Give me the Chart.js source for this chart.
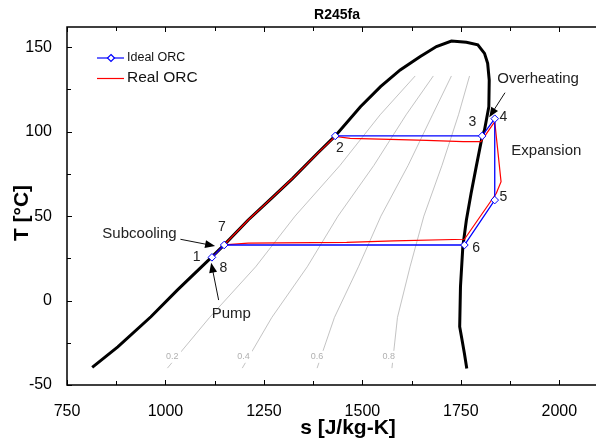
<!DOCTYPE html>
<html>
<head>
<meta charset="utf-8">
<script src="https://cdn.jsdelivr.net/npm/chart.js@4.4.1/dist/chart.umd.min.js"></script>
<style>
  body { margin: 0; background: #fff; overflow: hidden; }
  #wrap { width: 599px; height: 442px; position: relative; }
</style>
</head>
<body>
<div id="wrap"><canvas id="ts"></canvas></div>
<script>
// Saturation dome (s, T)
const domeS = [814, 879, 963, 1030, 1114, 1149, 1210, 1269, 1323, 1386, 1431, 1495, 1546, 1596, 1646, 1688, 1726, 1764, 1793, 1810, 1818, 1822, 1821, 1810, 1804, 1789, 1776, 1764, 1755, 1749, 1747, 1753, 1759, 1765];
const domeT = [-39.6, -27.4, -9.6, 6.2, 25, 33, 47.7, 60.5, 72.4, 87.2, 97.5, 114.8, 126.7, 136.6, 144.4, 150.4, 153.7, 153, 151.4, 146.4, 140.5, 130.6, 114.8, 101, 97, 79.3, 63.5, 47.7, 31.9, 8.2, -15.5, -23.4, -31.3, -40.2];

// Quality lines
const qualityT = [-40, -10, 20, 50, 80, 110, 133];
const q02S = [1005, 1112, 1229, 1329, 1443, 1545, 1634];
const q04S = [1195, 1270, 1360, 1438, 1529, 1611, 1680];
const q06S = [1385, 1429, 1490, 1547, 1616, 1678, 1726];
const q08S = [1575, 1589, 1621, 1656, 1702, 1744, 1772];
const qualityLabels = ['0.2', '0.4', '0.6', '0.8'];
const qualityLabelS = [1017, 1198, 1385, 1567];

// Ideal ORC: 2 - 3 - 4 - 5 - 6 - 7 - 8
const idealS = [1431, 1804, 1836, 1836, 1759, 1149, 1118];
const idealT = [97.5, 97.5, 107.7, 59.5, 32.9, 32.9, 25.6];

// Real ORC
const realS = [1118, 1149, 1210, 1269, 1323, 1386, 1431, 1469, 1570, 1663, 1756, 1801, 1836, 1852, 1840, 1759, 1580, 1460, 1210, 1149];
const realT = [25.6, 33, 47.7, 60.5, 72.4, 87.2, 97.2, 96.1, 95.5, 94.9, 94.1, 94.1, 105.9, 70.4, 63.5, 36.3, 35.4, 34.5, 34, 33];

// Ticks
const xTickValues = [750, 1000, 1250, 1500, 1750, 2000];
const yTickValues = [-50, 0, 50, 100, 150];

// State point labels
const pointNames = ['1', '2', '3', '4', '5', '6', '7', '8'];
const pointLabelS = [1079, 1443, 1779, 1858, 1858, 1789, 1143, 1147];
const pointLabelT = [25.6, 90.2, 105.9, 108.5, 61.1, 30.9, 43.7, 19.1];

// Text notes and arrows (data coords)
const notes = [
  { text: 'Overheating', s: 1946, T: 131.2, from: [1862, 123.1], to: [1822, 108.5] },
  { text: 'Expansion', s: 1967, T: 88.7 },
  { text: 'Subcooling', s: 934, T: 39.7, from: [1038, 36.3], to: [1126, 32.3] },
  { text: 'Pump', s: 1167, T: -8, from: [1135, 0.3], to: [1116, 22.4] }
];

const pts = (xs, ys) => xs.map((x, i) => ({ x: x, y: ys[i] }));
const FONT = '"Liberation Sans", Arial, sans-serif';

function qualityDs(xs) {
  return {
    data: pts(xs, qualityT), showLine: true, borderColor: '#b4b4b4', borderWidth: 0.8,
    pointRadius: 0, order: 4
  };
}

const decor = {
  id: 'decor',
  afterDatasetsDraw(chart) {
    const ctx = chart.ctx, x = chart.scales.x, y = chart.scales.y;
    ctx.save();
    // quality labels
    ctx.font = '9px ' + FONT;
    ctx.textAlign = 'center';
    ctx.textBaseline = 'middle';
    qualityLabels.forEach((t, i) => {
      const px = x.getPixelForValue(qualityLabelS[i]), py = y.getPixelForValue(-33.3);
      ctx.fillStyle = '#fff';
      ctx.fillRect(px - 9, py - 6, 18, 12);
      ctx.fillStyle = '#b0b0b0';
      ctx.fillText(t, px, py);
    });
    // state points
    ctx.font = '14px ' + FONT;
    ctx.fillStyle = '#222';
    pointNames.forEach((t, i) => {
      ctx.fillText(t, x.getPixelForValue(pointLabelS[i]), y.getPixelForValue(pointLabelT[i]));
    });
    // notes
    ctx.font = '15px ' + FONT;
    notes.forEach(n => {
      ctx.fillStyle = '#222';
      ctx.fillText(n.text, x.getPixelForValue(n.s), y.getPixelForValue(n.T));
      if (!n.from) return;
      const x0 = x.getPixelForValue(n.from[0]), y0 = y.getPixelForValue(n.from[1]);
      const x1 = x.getPixelForValue(n.to[0]), y1 = y.getPixelForValue(n.to[1]);
      const a = Math.atan2(y1 - y0, x1 - x0);
      ctx.strokeStyle = '#111';
      ctx.lineWidth = 1;
      ctx.beginPath();
      ctx.moveTo(x0, y0);
      ctx.lineTo(x1 - 7 * Math.cos(a), y1 - 7 * Math.sin(a));
      ctx.stroke();
      ctx.fillStyle = '#000';
      ctx.beginPath();
      ctx.moveTo(x1, y1);
      ctx.lineTo(x1 - 10 * Math.cos(a) + 4 * Math.sin(a), y1 - 10 * Math.sin(a) - 4 * Math.cos(a));
      ctx.lineTo(x1 - 10 * Math.cos(a) - 4 * Math.sin(a), y1 - 10 * Math.sin(a) + 4 * Math.cos(a));
      ctx.closePath();
      ctx.fill();
    });
    ctx.restore();
  },
  afterDraw(chart) {
    const ctx = chart.ctx, a = chart.chartArea, x = chart.scales.x, y = chart.scales.y;
    ctx.save();
    // frame: left, bottom, top
    ctx.strokeStyle = '#000';
    ctx.lineWidth = 1.5;
    ctx.beginPath();
    ctx.moveTo(a.right + 2, a.top); ctx.lineTo(a.left, a.top);
    ctx.lineTo(a.left, a.bottom); ctx.lineTo(a.right + 2, a.bottom);
    ctx.stroke();
    // inward ticks, major + minor
    ctx.lineWidth = 1;
    ctx.beginPath();
    for (let v = 750; v <= 2100; v += 125) {
      const px = Math.round(x.getPixelForValue(v)) + 0.5;
      const len = (v - 750) % 250 === 0 ? 5 : 4;
      ctx.moveTo(px, a.bottom); ctx.lineTo(px, a.bottom - len);
      ctx.moveTo(px, a.top); ctx.lineTo(px, a.top + len);
    }
    for (let v = -50; v <= 160; v += 25) {
      const py = Math.round(y.getPixelForValue(v)) + 0.5;
      const len = v % 50 === 0 ? 5 : 4;
      ctx.moveTo(a.left, py); ctx.lineTo(a.left + len, py);
    }
    ctx.stroke();
    // titles
    ctx.fillStyle = '#000';
    ctx.textAlign = 'center';
    ctx.textBaseline = 'middle';
    ctx.font = 'bold 14px ' + FONT;
    ctx.fillText('R245fa', 337, 15);
    ctx.font = 'bold 21px ' + FONT;
    ctx.fillText('s [J/kg-K]', 348, 428);
    ctx.save();
    ctx.translate(22, 213);
    ctx.rotate(-Math.PI / 2);
    ctx.fillText('T [°C]', 0, 0);
    ctx.restore();
    // legend
    ctx.textAlign = 'left';
    ctx.lineWidth = 1.2;
    ctx.strokeStyle = '#0000ff';
    ctx.beginPath(); ctx.moveTo(97, 58); ctx.lineTo(124, 58); ctx.stroke();
    ctx.fillStyle = '#fff';
    ctx.beginPath();
    ctx.moveTo(111, 54.5); ctx.lineTo(114.5, 58); ctx.lineTo(111, 61.5); ctx.lineTo(107.5, 58);
    ctx.closePath(); ctx.fill(); ctx.stroke();
    ctx.strokeStyle = '#ff0000';
    ctx.beginPath(); ctx.moveTo(97, 78.5); ctx.lineTo(124, 78.5); ctx.stroke();
    ctx.fillStyle = '#111';
    ctx.font = '12.5px ' + FONT;
    ctx.fillText('Ideal ORC', 127, 58);
    ctx.font = '15.5px ' + FONT;
    ctx.fillText('Real ORC', 127, 78);
    ctx.restore();
  }
};

const tsChart = new Chart(document.getElementById('ts'), {
  type: 'scatter',
  data: {
    datasets: [
      {
        label: 'Ideal ORC', data: pts(idealS, idealT), showLine: true,
        borderColor: '#0000ff', borderWidth: 1.3, pointStyle: 'rectRot', pointRadius: 3.8,
        pointBackgroundColor: '#fff', pointBorderColor: '#0000ff', pointBorderWidth: 1, order: 0
      },
      {
        label: 'Real ORC', data: pts(realS, realT), showLine: true,
        borderColor: '#ff0000', borderWidth: 1.2, pointRadius: 0, order: 1
      },
      {
        label: 'dome', data: pts(domeS, domeT), showLine: true,
        borderColor: '#000', borderWidth: 3, pointRadius: 0, order: 2
      },
      qualityDs(q02S), qualityDs(q04S), qualityDs(q06S), qualityDs(q08S)
    ]
  },
  options: {
    responsive: true,
    maintainAspectRatio: false,
    animation: false,
    layout: { padding: { top: 27, right: 0, left: 0, bottom: 0 } },
    plugins: { legend: { display: false }, tooltip: { enabled: false } },
    scales: {
      x: {
        type: 'linear', min: 750, max: 2088,
        grid: { display: false }, border: { display: false },
        afterFit: s => { s.height = 57; s.paddingLeft = 0; s.paddingRight = 0; },
        afterBuildTicks: s => { s.ticks = xTickValues.map(v => ({ value: v })); },
        ticks: { color: '#000', font: { family: FONT, size: 16 }, padding: 9, maxRotation: 0,
                 callback: v => String(v) }
      },
      y: {
        type: 'linear', min: -50, max: 162,
        grid: { display: false }, border: { display: false },
        afterFit: s => { s.width = 67; s.paddingTop = 0; s.paddingBottom = 0; },
        afterBuildTicks: s => { s.ticks = yTickValues.map(v => ({ value: v })); },
        ticks: { color: '#000', font: { family: FONT, size: 16 }, padding: 7,
                 callback: v => String(v) }
      }
    }
  },
  plugins: [decor]
});
</script>
</body>
</html>
